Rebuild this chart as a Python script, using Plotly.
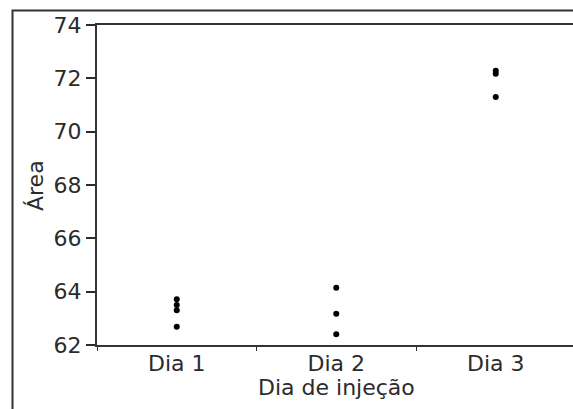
import plotly.graph_objects as go

# Peak area measured on each injection day
dias = ["Dia 1", "Dia 2", "Dia 3"]
area_dia1 = [63.72, 63.5, 63.3, 62.68]
area_dia2 = [64.15, 63.17, 62.4]
area_dia3 = [72.28, 72.17, 71.3]
y_ticks = [62, 64, 66, 68, 70, 72, 74]

W, H = 573, 409
L, R, T, B = 97, 0, 25, 64
FONT = "DejaVu Sans"
INK = "#2b2b2b"
FS = 22

fig = go.Figure()
for dia, vals in zip(dias, [area_dia1, area_dia2, area_dia3]):
    fig.add_trace(go.Scatter(
        x=[dia] * len(vals), y=vals, mode="markers",
        marker=dict(color="black", size=6), showlegend=False,
    ))

plot_w = W - L - R
plot_h = H - T - B

def px_x(px):
    return (px - L) / plot_w

def px_y(py):
    return (H - B - py) / plot_h

# outer frame around the whole graph
fig.add_shape(type="rect", xref="paper", yref="paper",
              x0=px_x(12.5), x1=px_x(W + 20), y0=px_y(H + 20), y1=px_y(10.5),
              line=dict(color="#333", width=2), layer="above")

fig.add_annotation(text="Área", xref="paper", yref="paper",
                   x=px_x(35), y=px_y(185), xanchor="center", yanchor="middle",
                   textangle=-90, showarrow=False,
                   font=dict(family=FONT, size=FS, color=INK))
fig.add_annotation(text="Dia de injeção", xref="paper", yref="paper",
                   x=px_x(336), y=px_y(387), xanchor="center", yanchor="middle",
                   showarrow=False,
                   font=dict(family=FONT, size=FS, color=INK))

fig.update_xaxes(
    type="category", categoryorder="array", categoryarray=dias,
    range=[-0.5, -0.5 + (W - L) / 159.5],
    tickson="boundaries", ticks="outside", ticklen=4, tickwidth=1,
    tickcolor=INK, showline=True, linecolor="#333", linewidth=2, mirror=True,
    showgrid=False, zeroline=False, ticklabelstandoff=-2,
    tickfont=dict(family=FONT, size=FS, color=INK),
)
fig.update_yaxes(
    range=[62, 74], tickvals=y_ticks, ticktext=[str(v) for v in y_ticks],
    ticks="outside", ticklen=9, tickwidth=1.5, tickcolor=INK,
    showline=True, linecolor="#333", linewidth=2, mirror=True,
    showgrid=False, zeroline=False,
    tickfont=dict(family=FONT, size=FS, color=INK),
)
fig.update_layout(
    width=W, height=H,
    margin=dict(l=L, r=R, t=T, b=B, autoexpand=False),
    plot_bgcolor="white", paper_bgcolor="white",
)
fig.write_html("out.html")
